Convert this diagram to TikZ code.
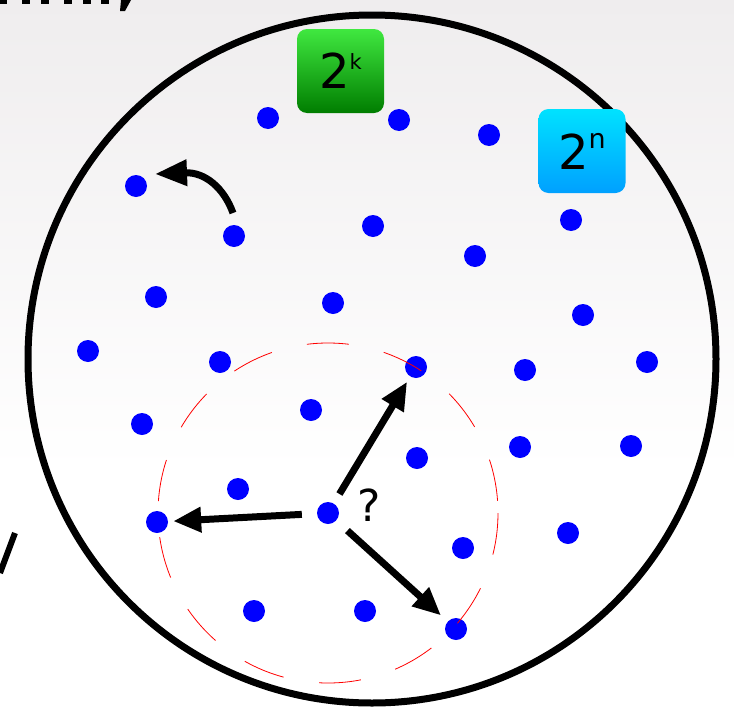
\documentclass[tikz,border=0pt]{standalone}
\usepackage{fontspec}
\setmainfont{DejaVu Sans}
\usetikzlibrary{arrows.meta}
\definecolor{bgtop}{RGB}{239,237,238}
\definecolor{gtop}{RGB}{64,232,64}
\definecolor{gbot}{RGB}{0,125,0}
\definecolor{ctop}{RGB}{0,226,255}
\definecolor{cbot}{RGB}{0,160,255}
\tikzset{
  dot/.style={circle,fill=blue,inner sep=0pt,minimum size=22pt},
  bigarrow/.style={line width=7pt,-{Triangle[length=28pt,width=24pt]}},
  powbox/.style={rounded corners=10pt,inner sep=0pt,minimum width=87pt,minimum height=84pt},
  ring/.style={line width=7pt},
  nbhd/.style={red,line width=0.8pt,dash pattern=on 42pt off 36pt}
}
\begin{document}
\begin{tikzpicture}[x=1pt,y=-1pt]
\useasboundingbox (0,0) rectangle (734,707);
\shade[top color=bgtop,bottom color=white] (0,0) rectangle (734,470);
\fill[white] (0,469) rectangle (734,707);
% cut-off fragments at the left edge
\fill (0,0) rectangle (7,4);
\fill (22,0) rectangle (30,4);
\fill (41,0) rectangle (49,4);
\fill (64,0) rectangle (72,4);
\fill (83,0) rectangle (91,4);
\fill (101,0) rectangle (109,4);
\fill (121,0) -- (131,0) -- (125,11) -- (120,11) -- cycle;
\draw[line width=6pt] (15,533) -- (0,573);
% big circle
\draw[ring] (372,359) ellipse [x radius=344, y radius=344];
% dots
\node[dot] (d1) at (268,118) {};
\node[dot] (d2) at (399,120) {};
\node[dot] (d3) at (489,135) {};
\node[dot] (d4) at (136,186) {};
\node[dot] (d5) at (234,236) {};
\node[dot] (d6) at (373,226) {};
\node[dot] (d7) at (475,256) {};
\node[dot] (d8) at (571,220) {};
\node[dot] (d9) at (156,297) {};
\node[dot] (d10) at (333,303) {};
\node[dot] (d11) at (583,315) {};
\node[dot] (d12) at (88,351) {};
\node[dot] (d13) at (220,362) {};
\node[dot] (d14) at (416,367) {};
\node[dot] (d15) at (525,370) {};
\node[dot] (d16) at (647,362) {};
\node[dot] (d17) at (142,424) {};
\node[dot] (d18) at (311,410) {};
\node[dot] (d19) at (417,458) {};
\node[dot] (d20) at (520,447) {};
\node[dot] (d21) at (631,446) {};
\node[dot] (d22) at (238,489) {};
\node[dot] (d23) at (328,513) {};
\node[dot] (d24) at (157,522) {};
\node[dot] (d25) at (463,548) {};
\node[dot] (d26) at (568,533) {};
\node[dot] (d27) at (254,611) {};
\node[dot] (d28) at (365,611) {};
\node[dot] (d29) at (456,629) {};
% neighbourhood circle
\draw[nbhd] (d23.center) circle [radius=170];
% arrows
\draw[bigarrow,shorten <=11pt,shorten >=6pt] (d23) -- (d14);
\draw[bigarrow,shorten <=15pt,shorten >=5pt] (d23) -- (d24);
\draw[bigarrow,shorten <=15pt,shorten >=9pt] (d23) -- (d29);
\node[font=\fontsize{44}{44}\selectfont,inner sep=0pt] (q) at (369,505) {?};
\coordinate (ct) at (233,213);
\coordinate (ch) at (155,174);
\draw[line width=7pt,-{Triangle[length=32pt,width=25pt]}] (ct) .. controls (224,188) and (205,172) .. (ch);
% boxes
\node[powbox,top color=gtop,bottom color=gbot] (gk) at (340.5,71)
  {\fontsize{48}{48}\selectfont 2\raisebox{19pt}{\fontsize{21}{21}\selectfont k}};
\node[powbox,top color=ctop,bottom color=cbot] (gn) at (582,151)
  {\fontsize{48}{48}\selectfont 2\raisebox{21pt}{\fontsize{27}{27}\selectfont n}};
\end{tikzpicture}
\end{document}
